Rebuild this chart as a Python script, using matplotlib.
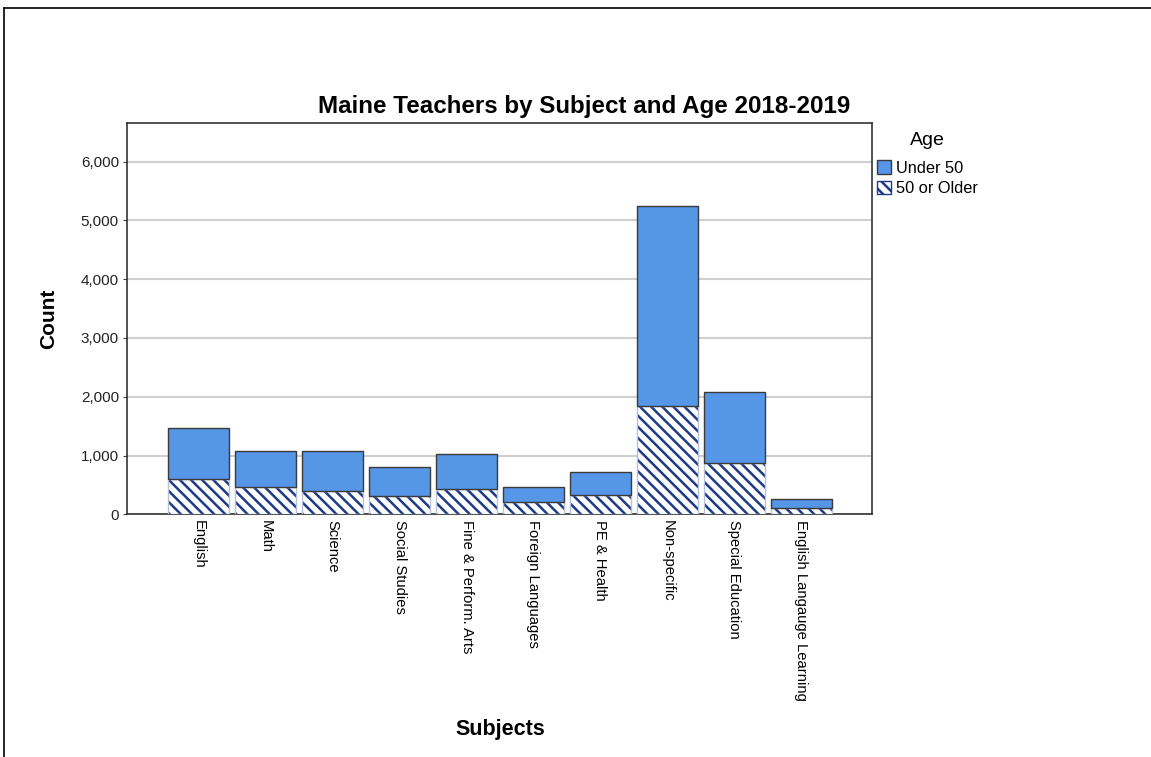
import matplotlib.pyplot as plt
import matplotlib.patches as mpatches
from matplotlib.lines import Line2D
import numpy as np

plt.rcParams['font.family'] = ['Liberation Sans', 'DejaVu Sans']
plt.rcParams['hatch.linewidth'] = 1.8

subjects = ["English", "Math", "Science", "Social Studies", "Fine & Perform. Arts",
            "Foreign Languages", "PE & Health", "Non-specific", "Special Education",
            "English Langauge Learning"]
older = [596, 470, 396, 316, 425, 209, 323, 1848, 868, 112]
totals = [1463, 1082, 1072, 810, 1031, 465, 725, 5251, 2086, 255]
under = [t - o for t, o in zip(totals, older)]
yticks = [0, 1000, 2000, 3000, 4000, 5000, 6000]

blue = '#5596e6'
navy = '#1c3a87'

fig = plt.figure(figsize=(11.51, 7.57), dpi=100)
ax = fig.add_axes([0.1106, 0.3206, 0.6467, 0.5173])

x = np.arange(len(subjects))
w = 0.91

# 50 or older: hatched segment
ax.bar(x, older, width=w, color='white', edgecolor=navy, linewidth=0, hatch='\\\\\\', zorder=3)
ax.bar(x, older, width=w, color='none', edgecolor='#b4c2e0', linewidth=1, zorder=4)
# under 50 on top
ax.bar(x, under, width=w, bottom=older, color=blue, edgecolor='#3a3a3a', linewidth=1, zorder=4)

ax.set_xlim(-1.066, 10.05)
ax.set_ylim(0, 6663)
ax.set_yticks(yticks)
ax.set_yticklabels([f"{v:,}" for v in yticks], fontsize=11, color='#222222')
ax.set_xticks(x)
ax.set_xticklabels(subjects, rotation=-90, fontsize=10.6, va='top', ha='center')
ax.tick_params(axis='x', length=0, pad=4)
ax.tick_params(axis='y', length=3, width=0.8, color='#444444', pad=3)
ax.grid(axis='y', color='#cfcfcf', linewidth=1.5, zorder=0)
ax.set_axisbelow(True)
for s in ax.spines.values():
    s.set_color('#333333')
    s.set_linewidth(1.2)

ax.set_ylabel("Count", fontsize=15, fontweight='bold', labelpad=16)
fig.text(500 / 1151, 1 - 730 / 757, "Subjects", fontsize=15.5, fontweight='bold', ha='center', va='center')
fig.text(584 / 1151, 1 - 106 / 757, "Maine Teachers by Subject and Age 2018-2019",
         fontsize=17.4, fontweight='bold', ha='center', va='center')

handles = [mpatches.Patch(facecolor=blue, edgecolor='#3a3a3a', linewidth=1, label='Under 50'),
           mpatches.Patch(facecolor='white', edgecolor=navy, linewidth=1, hatch='\\\\\\', label='50 or Older')]
leg = ax.legend(handles=handles, title='Age', loc='upper left', bbox_to_anchor=(1.0, 0.988),
                frameon=False, fontsize=11.8, title_fontsize=14, handlelength=0.9, handleheight=0.9,
                handletextpad=0.3, labelspacing=0.3, borderaxespad=0.2, borderpad=0.1)
leg._legend_box.align = 'center'
leg._legend_box.sep = 8

# page frame lines
fig.add_artist(Line2D([4 / 1151, 4 / 1151], [0, 1 - 8 / 757], transform=fig.transFigure, color='black', lw=1.2))
fig.add_artist(Line2D([4 / 1151, 1], [1 - 8 / 757, 1 - 8 / 757], transform=fig.transFigure, color='black', lw=1.2))

fig.savefig('out.png', dpi=100)
